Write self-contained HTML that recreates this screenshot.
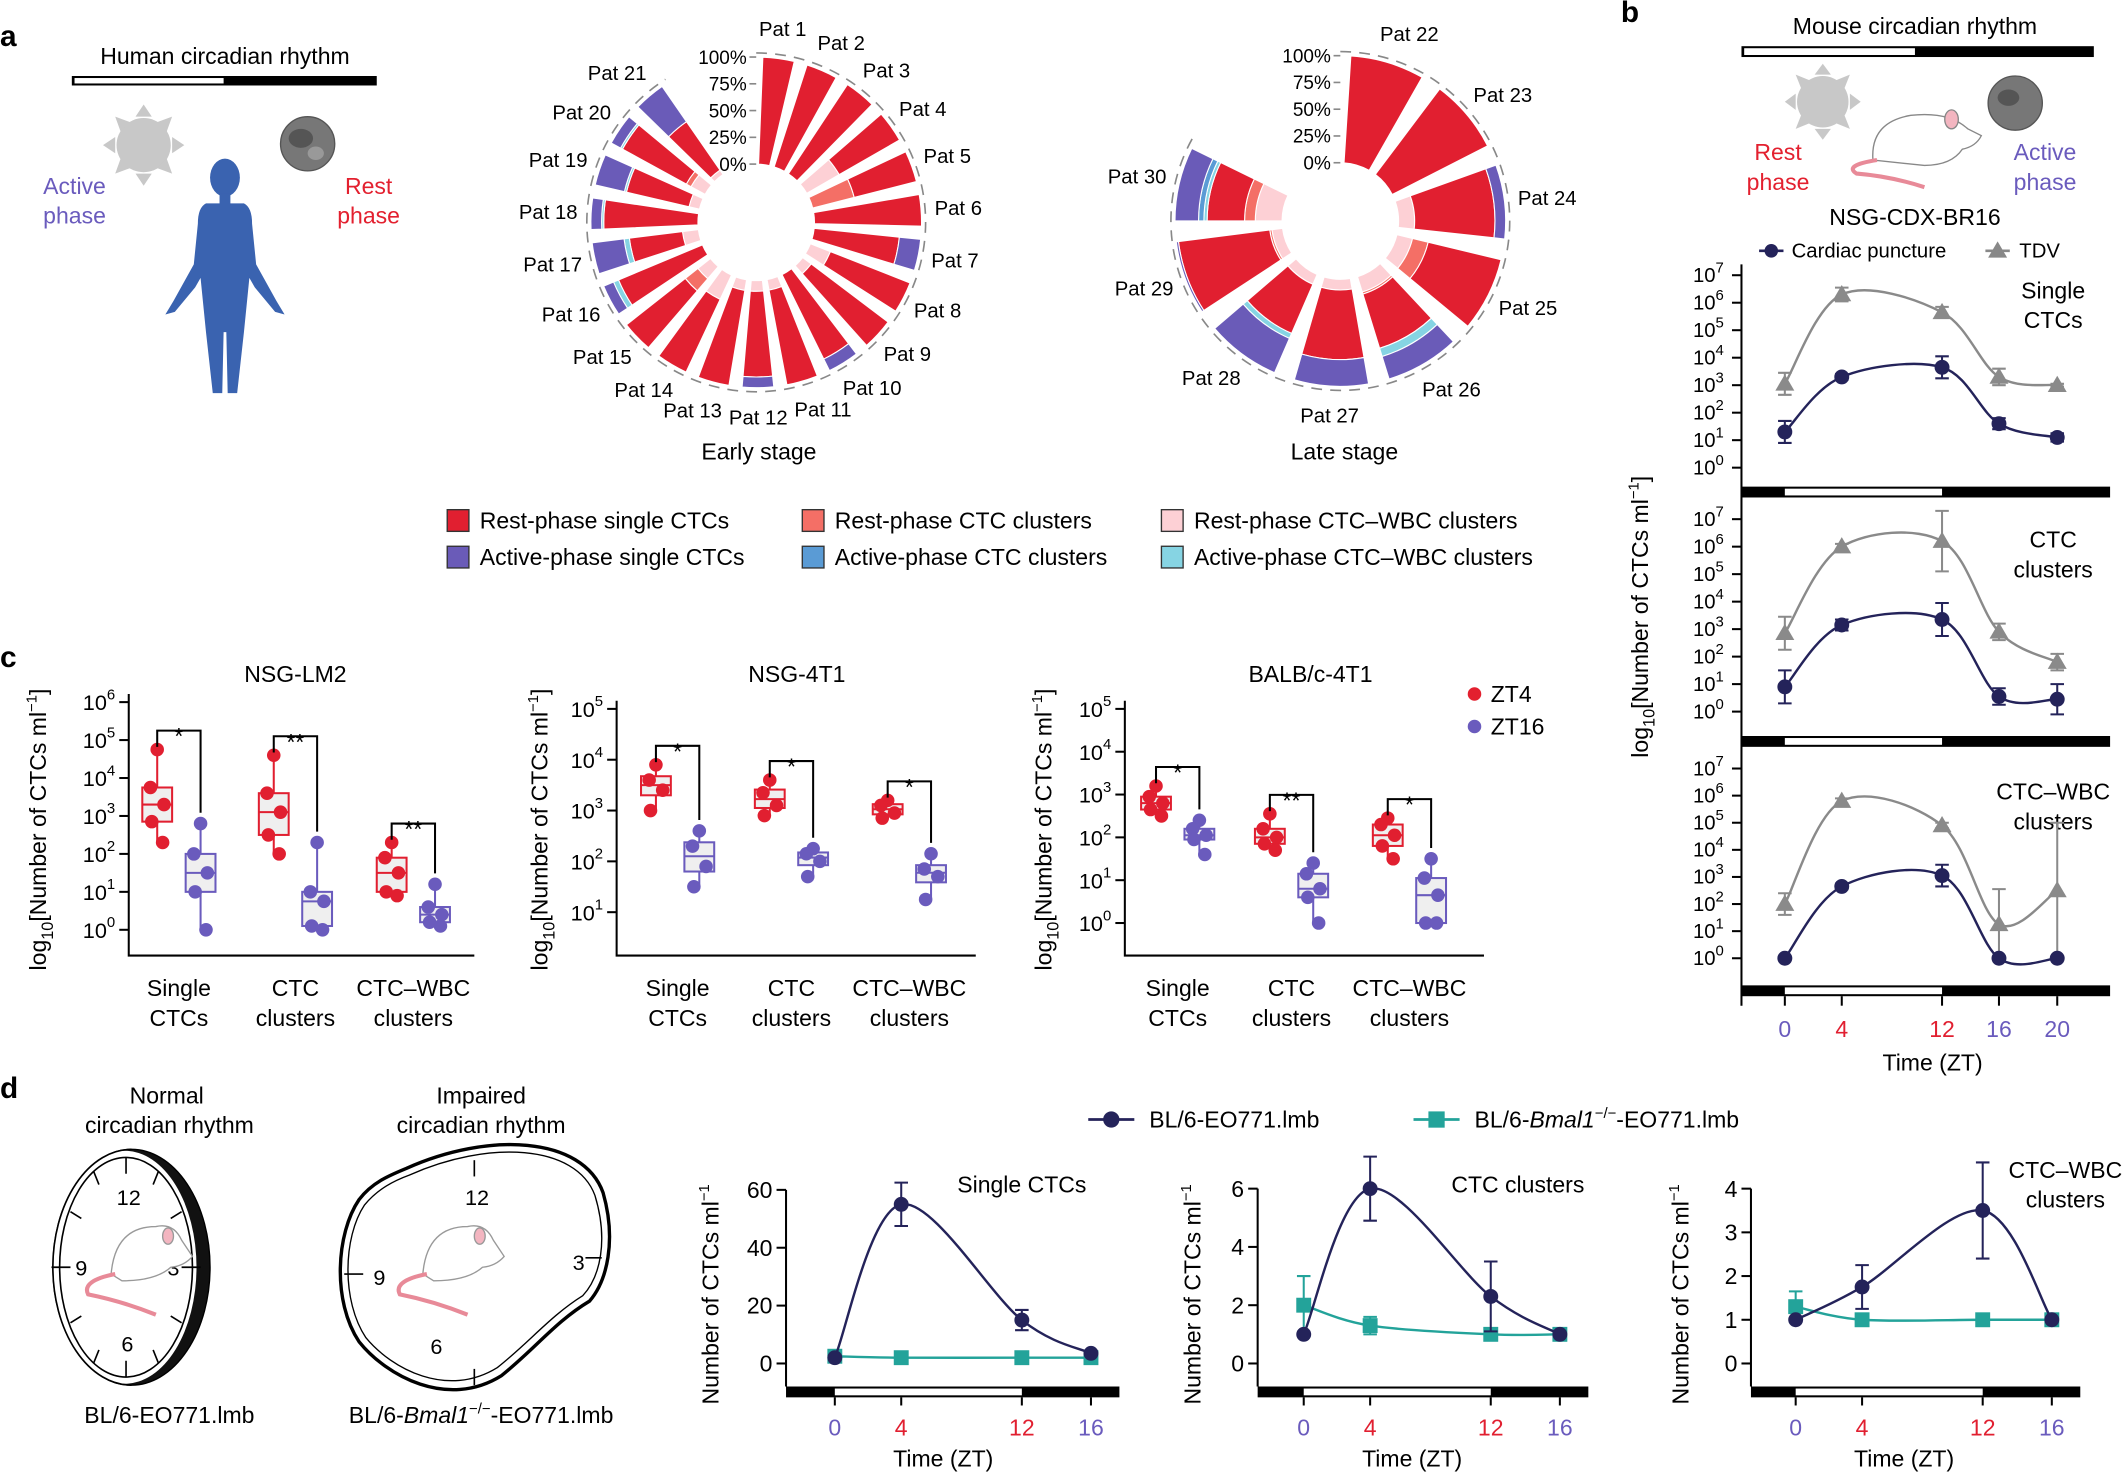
<!DOCTYPE html>
<html><head><meta charset="utf-8">
<style>
html,body{margin:0;padding:0;background:#fff}
svg{display:block;font-family:"Liberation Sans",Arial,sans-serif}
</style></head>
<body>
<svg id="fig" xmlns="http://www.w3.org/2000/svg" width="2125" height="1472" viewBox="0 0 1568 1086">
<rect x="0" y="0" width="1568" height="1086" fill="#fff"/>
<text x="0" y="34" font-size="22" font-weight="bold">a</text>
<text x="1196" y="16" font-size="22" font-weight="bold">b</text>
<text x="0" y="492" font-size="22" font-weight="bold">c</text>
<text x="0" y="810" font-size="22" font-weight="bold">d</text>

<g>
<text x="166" y="47" font-size="17" text-anchor="middle">Human circadian rhythm</text>
<rect x="53" y="56" width="225" height="7" fill="#000"/>
<rect x="55" y="57.5" width="110" height="4" fill="#fff"/>
<g fill="#c8c8c8">
<circle cx="106" cy="107" r="20"/>
<polygon points="106,77 100,86 112,86"/><polygon points="106,137 100,128 112,128"/>
<polygon points="76,107 85,101 85,113"/><polygon points="136,107 127,101 127,113"/>
<polygon points="85,86 96,90 89,97"/><polygon points="127,86 116,90 123,97"/>
<polygon points="85,128 96,124 89,117"/><polygon points="127,128 116,124 123,117"/>
</g>
<g>
<circle cx="227" cy="106" r="20" fill="#777" stroke="#555" stroke-width="1"/>
<ellipse cx="222" cy="102" rx="9" ry="7" fill="#555"/><ellipse cx="233" cy="113" rx="6" ry="5" fill="#999"/>
</g>
<text x="55" y="143" font-size="17" fill="#6a5bbd" text-anchor="middle">Active</text>
<text x="55" y="165" font-size="17" fill="#6a5bbd" text-anchor="middle">phase</text>
<text x="272" y="143" font-size="17" fill="#e3202f" text-anchor="middle">Rest</text>
<text x="272" y="165" font-size="17" fill="#e3202f" text-anchor="middle">phase</text>
<g fill="#3a63b0">
<ellipse cx="166" cy="131" rx="11" ry="14"/>
<rect x="162" y="143" width="8" height="8"/>
<path d="M152,150 L180,150 Q186,153 186,165 L189,195 L204,222 L210,232 L203,230 L188,212 L184,205 L183,215 L180,245 L175,290 L168,290 L167,245 L165,245 L164,290 L157,290 L152,245 L149,215 L148,205 L144,212 L129,230 L122,232 L128,222 L143,195 L146,165 Q146,153 152,150 Z"/>
</g>
</g>

<g font-size="17">
<rect x="330" y="376" width="16" height="16" fill="#e11f30" stroke="#333" stroke-width="1"/><text x="354" y="390">Rest-phase single CTCs</text>
<rect x="330" y="403" width="16" height="16" fill="#6a5bb8" stroke="#333" stroke-width="1"/><text x="354" y="417">Active-phase single CTCs</text>
<rect x="592" y="376" width="16" height="16" fill="#f46f66" stroke="#333" stroke-width="1"/><text x="616" y="390">Rest-phase CTC clusters</text>
<rect x="592" y="403" width="16" height="16" fill="#5a9bd5" stroke="#333" stroke-width="1"/><text x="616" y="417">Active-phase CTC clusters</text>
<rect x="857" y="376" width="16" height="16" fill="#fdd0d5" stroke="#333" stroke-width="1"/><text x="881" y="390">Rest-phase CTC–WBC clusters</text>
<rect x="857" y="403" width="16" height="16" fill="#86d4e3" stroke="#333" stroke-width="1"/><text x="881" y="417">Active-phase CTC–WBC clusters</text>
</g>
<text x="560" y="339" font-size="17" text-anchor="middle">Early stage</text>
<text x="992" y="339" font-size="17" text-anchor="middle">Late stage</text>

<g>
<text x="1413" y="25" font-size="17" text-anchor="middle">Mouse circadian rhythm</text>
<rect x="1285" y="34" width="260" height="8" fill="#000"/>
<rect x="1287" y="35.5" width="126" height="5" fill="#fff"/>
<g fill="#c8c8c8"><circle cx="1345" cy="75" r="19"/>
<polygon points="1345,47 1339,55 1351,55"/><polygon points="1345,103 1339,95 1351,95"/>
<polygon points="1317,75 1325,69 1325,81"/><polygon points="1373,75 1365,69 1365,81"/>
<polygon points="1325,55 1335,59 1329,65"/><polygon points="1365,55 1355,59 1361,65"/>
<polygon points="1325,95 1335,91 1329,85"/><polygon points="1365,95 1355,91 1361,85"/></g>
<circle cx="1487" cy="76" r="20" fill="#777" stroke="#555"/><ellipse cx="1482" cy="72" rx="8" ry="6" fill="#555"/>
<g>
<path d="M1382,118 Q1380,90 1410,85 Q1438,82 1452,95 L1462,100 Q1458,108 1448,110 Q1440,122 1420,122 Z" fill="#fff" stroke="#888"/>
<ellipse cx="1440" cy="88" rx="5" ry="7" fill="#f3b5c0" stroke="#888"/>
<path d="M1385,118 Q1360,122 1370,128 Q1395,130 1420,138" fill="none" stroke="#e88a98" stroke-width="3"/>
</g>
<text x="1312" y="118" font-size="17" fill="#e3202f" text-anchor="middle">Rest</text>
<text x="1312" y="140" font-size="17" fill="#e3202f" text-anchor="middle">phase</text>
<text x="1509" y="118" font-size="17" fill="#6a5bbd" text-anchor="middle">Active</text>
<text x="1509" y="140" font-size="17" fill="#6a5bbd" text-anchor="middle">phase</text>
<text x="1413" y="166" font-size="17" text-anchor="middle">NSG-CDX-BR16</text>
</g>
<g font-size="15">
<line x1="1298" y1="185" x2="1316" y2="185" stroke="#24235a" stroke-width="2"/><circle cx="1307" cy="185" r="5" fill="#24235a"/>
<text x="1322" y="190">Cardiac puncture</text>
<line x1="1465" y1="185" x2="1483" y2="185" stroke="#888" stroke-width="2"/><polygon points="1474,178 1481,190 1467,190" fill="#888"/>
<text x="1490" y="190">TDV</text>
</g>
<text transform="translate(1216,455) rotate(-90)" font-size="17" text-anchor="middle">log<tspan font-size="12" dy="5">10</tspan><tspan dy="-5">[Number of CTCs ml</tspan><tspan font-size="11" dy="-7">−1</tspan><tspan dy="7">]</tspan></text>
<text x="1426" y="790" font-size="17" text-anchor="middle">Time (ZT)</text>

<g font-size="17">
<circle cx="1088" cy="512" r="5" fill="#e3202f"/><text x="1100" y="518">ZT4</text>
<circle cx="1088" cy="536" r="5" fill="#6a5bbd"/><text x="1100" y="542">ZT16</text>
</g>

<g>
<text x="123" y="814" font-size="17" text-anchor="middle">Normal</text>
<text x="125" y="836" font-size="17" text-anchor="middle">circadian rhythm</text>
<ellipse cx="97" cy="935" rx="58" ry="87" fill="#111" stroke="#000" stroke-width="1"/>
<ellipse cx="92" cy="935" rx="53" ry="86" fill="#fff"/>
<path d="M97,848 A58,87 0 0 0 97,1022" fill="none" stroke="#000" stroke-width="1.2"/>
<ellipse cx="93" cy="935" rx="49" ry="81" fill="#fff" stroke="#000" stroke-width="1.2"/>
<g stroke="#000" stroke-width="1.2">
<line x1="93" y1="854" x2="93" y2="866"/><line x1="93" y1="1004" x2="93" y2="1016"/>
<line x1="38" y1="935" x2="52" y2="935"/><line x1="134" y1="935" x2="148" y2="935"/>
<line x1="117" y1="864" x2="113" y2="874"/><line x1="69" y1="864" x2="73" y2="874"/>
<line x1="134" y1="894" x2="126" y2="899"/><line x1="52" y1="894" x2="60" y2="899"/>
<line x1="134" y1="976" x2="126" y2="971"/><line x1="52" y1="976" x2="60" y2="971"/>
<line x1="117" y1="1006" x2="113" y2="996"/><line x1="69" y1="1006" x2="73" y2="996"/></g>
<text x="95" y="889" font-size="16" text-anchor="middle">12</text>
<text x="128" y="941" font-size="16" text-anchor="middle">3</text>
<text x="94" y="997" font-size="16" text-anchor="middle">6</text>
<text x="60" y="941" font-size="16" text-anchor="middle">9</text>
<path d="M82,940 Q85,905 115,905 Q128,902 134,915 L142,927 Q136,934 126,935 Q115,945 90,945 Z" fill="#fff" stroke="#999"/>
<ellipse cx="124" cy="912" rx="4" ry="6" fill="#f3b5c0" stroke="#999"/>
<path d="M85,940 Q60,945 65,955 Q90,960 115,970" fill="none" stroke="#e88a98" stroke-width="3"/>
<text x="125" y="1050" font-size="17" text-anchor="middle">BL/6-EO771.lmb</text>
</g>
<g>
<text x="355" y="814" font-size="17" text-anchor="middle">Impaired</text>
<text x="355" y="836" font-size="17" text-anchor="middle">circadian rhythm</text>
<path d="M300,862 C360,835 430,838 445,880 C455,915 448,945 435,960 C410,975 395,995 370,1015 C330,1040 285,1015 265,990 C245,960 248,910 265,885 C275,872 288,867 300,862 Z" fill="#fff" stroke="#000" stroke-width="2.5"/>
<path d="M302,867 C360,841 425,844 439,882 C449,915 443,942 430,956 C406,971 391,990 367,1009 C330,1032 289,1010 270,987 C252,960 253,913 269,889 C279,877 291,871 302,867 Z" fill="none" stroke="#000" stroke-width="1"/>
<g stroke="#000" stroke-width="1.2">
<line x1="350" y1="856" x2="350" y2="868"/><line x1="350" y1="1010" x2="350" y2="1022"/>
<line x1="254" y1="940" x2="268" y2="940"/><line x1="432" y1="928" x2="444" y2="928"/></g>
<text x="352" y="889" font-size="16" text-anchor="middle">12</text>
<text x="427" y="937" font-size="16" text-anchor="middle">3</text>
<text x="322" y="999" font-size="16" text-anchor="middle">6</text>
<text x="280" y="948" font-size="16" text-anchor="middle">9</text>
<path d="M312,940 Q315,905 345,905 Q358,902 364,915 L372,927 Q366,934 356,935 Q345,945 320,945 Z" fill="#fff" stroke="#999"/>
<ellipse cx="354" cy="912" rx="4" ry="6" fill="#f3b5c0" stroke="#999"/>
<path d="M315,940 Q290,945 295,955 Q320,960 345,970" fill="none" stroke="#e88a98" stroke-width="3"/>
<text x="355" y="1050" font-size="17" text-anchor="middle">BL/6-<tspan font-style="italic">Bmal1</tspan><tspan font-size="11" dy="-7">−/−</tspan><tspan dy="7">-EO771.lmb</tspan></text>
</g>
<g font-size="17">
<line x1="803" y1="826" x2="837" y2="826" stroke="#24235a" stroke-width="2"/><circle cx="820" cy="826" r="6" fill="#24235a"/>
<text x="848" y="832">BL/6-EO771.lmb</text>
<line x1="1043" y1="826" x2="1077" y2="826" stroke="#23a39a" stroke-width="2"/><rect x="1054" y="820" width="12" height="12" fill="#23a39a"/>
<text x="1088" y="832">BL/6-<tspan font-style="italic">Bmal1</tspan><tspan font-size="11" dy="-7">−/−</tspan><tspan dy="7">-EO771.lmb</tspan></text>
</g>
<g id="dyn"></g>
</svg>
<script>
// ---------- DATA ----------
const earlyPatients=['Pat 1','Pat 2','Pat 3','Pat 4','Pat 5','Pat 6','Pat 7','Pat 8','Pat 9','Pat 10','Pat 11','Pat 12','Pat 13','Pat 14','Pat 15','Pat 16','Pat 17','Pat 18','Pat 19','Pat 20','Pat 21'];
const earlyRestWBC=[0,0,0,35,0,0,0,20,10,0,10,10,10,25,15,0,15,0,10,15,5];
const earlyRestCluster=[0,0,0,0,40,0,0,0,0,0,0,0,0,0,15,0,0,0,0,5,0];
const earlyRestSingle=[100,100,100,65,60,100,80,80,90,88,90,80,90,75,70,85,50,88,60,68,55];
const earlyActiveWBC=[0,0,0,0,0,0,0,0,0,0,0,0,0,0,0,5,5,2,2,2,0];
const earlyActiveCluster=[0,0,0,0,0,0,0,0,0,0,0,0,0,0,0,0,0,0,0,0,0];
const earlyActiveSingle=[0,0,0,0,0,0,20,0,0,12,0,10,0,0,0,10,30,10,28,10,40];
const latePatients=['Pat 22','Pat 23','Pat 24','Pat 25','Pat 26','Pat 27','Pat 28','Pat 29','Pat 30'];
const lateRestWBC=[0,0,15,15,15,10,10,10,25];
const lateRestCluster=[0,0,0,15,2,0,0,2,10];
const lateRestSingle=[100,100,75,70,53,65,50,86,35];
const lateActiveWBC=[0,0,0,0,8,0,5,0,3];
const lateActiveCluster=[0,0,0,0,0,0,0,0,5];
const lateActiveSingle=[0,0,10,0,22,25,35,2,22];
const pctTicks=['0%','25%','50%','75%','100%'];
const pctTickValues=[0,25,50,75,100];

const bTimes=[0,4,12,16,20];
const bTimeTicks=['0','4','12','16','20'];
const bSingleCardiac=[1.3,3.3,3.65,1.6,1.1];
const bSingleCardiacErr=[0.4,0.1,0.4,0.2,0.15];
const bSingleTDV=[3.05,6.3,5.65,3.3,3.0];
const bSingleTDVErr=[0.4,0.25,0.2,0.3,0.05];
const bClusterCardiac=[0.9,3.15,3.35,0.55,0.45];
const bClusterCardiacErr=[0.6,0.2,0.6,0.3,0.55];
const bClusterTDV=[2.85,6.0,6.2,2.9,1.8];
const bClusterTDVErr=[0.6,0.1,1.1,0.3,0.3];
const bWBCCardiac=[0,2.65,3.05,0,0];
const bWBCCardiacErr=[0,0.1,0.4,0,0];
const bWBCTDV=[2.0,5.8,4.9,1.25,2.5];
const bWBCTDVErr=[0.4,0.1,0.1,1.3,2.5];
const bLogTicks=[0,1,2,3,4,5,6,7];

const cCategories=['Single|CTCs','CTC|clusters','CTC–WBC|clusters'];
const lm2ZT4=[[4.75,3.75,3.3,2.85,2.3],[4.6,3.6,3.1,2.5,2.0],[2.3,1.9,1.5,1.0,0.9]];
const lm2ZT16=[[2.8,2.0,1.5,1.0,0.0],[2.3,1.0,0.75,0.1,0.0],[1.2,0.6,0.4,0.2,0.1]];
const nsg4t1ZT4=[[3.9,3.6,3.4,3.0],[3.6,3.35,3.1,2.9],[3.2,3.1,2.95,2.85]];
const nsg4t1ZT16=[[2.6,2.3,1.9,1.5],[2.25,2.15,2.0,1.7],[2.15,1.85,1.7,1.25]];
const balbZT4=[[3.2,2.95,2.8,2.65,2.5],[2.55,2.2,2.0,1.85,1.7],[2.45,2.3,2.05,1.8,1.5]];
const balbZT16=[[2.4,2.2,2.05,1.95,1.6],[1.4,1.15,0.8,0.6,0.0],[1.5,1.05,0.65,0.0,0.0]];
const lm2Stars=['*','**','**'];
const nsg4t1Stars=['*','*','*'];
const balbStars=['*','**','*'];

const dTimes=[0,4,12,16];
const dTimeTicks=['0','4','12','16'];
const dSingleWT=[2,55,15,3.5];
const dSingleWTErr=[0,7.5,3.5,0];
const dSingleKO=[2.5,2,2,2];
const dClusterWT=[1,6,2.3,1];
const dClusterWTErr=[0,1.1,1.2,0];
const dClusterKO=[2,1.3,1,1];
const dClusterKOErr=[1,0.3,0,0];
const dWBCWT=[1,1.75,3.5,1];
const dWBCWTErr=[0,0.5,1.1,0];
const dWBCKO=[1.3,1,1,1];
const dWBCKOErr=[0.35,0,0,0];
const dSingleTicks=[0,20,40,60];
const dClusterTicks=[0,2,4,6];
const dWBCTicks=[0,1,2,3,4];

// ---------- HELPERS ----------
const NS='http://www.w3.org/2000/svg';
const root=document.getElementById('dyn');
function mk(tag,attrs,parent){const e=document.createElementNS(NS,tag);for(const k in attrs)e.setAttribute(k,attrs[k]);(parent||root).appendChild(e);return e;}
function txt(x,y,s,size,anchor,fill,parent){const t=mk('text',{x:x,y:y,'font-size':size,'text-anchor':anchor||'start',fill:fill||'#000'},parent);t.textContent=s;return t;}
function pw(dom,rng){return function(v){for(let i=0;i<dom.length-1;i++){if(v<=dom[i+1]||i===dom.length-2){return rng[i]+(v-dom[i])*(rng[i+1]-rng[i])/(dom[i+1]-dom[i]);}}};}
function catmull(pts){let d=`M${pts[0][0]},${pts[0][1]}`;for(let i=0;i<pts.length-1;i++){const p0=pts[Math.max(0,i-1)],p1=pts[i],p2=pts[i+1],p3=pts[Math.min(pts.length-1,i+2)];
 d+=`C${p1[0]+(p2[0]-p0[0])/6},${p1[1]+(p2[1]-p0[1])/6} ${p2[0]-(p3[0]-p1[0])/6},${p2[1]-(p3[1]-p1[1])/6} ${p2[0]},${p2[1]}`;}return d;}
const RED='#e11f30',PUR='#6a5bbd',NAVY='#24235a',GREY='#8a8a8a',TEAL='#23a39a';

// ---------- PANEL a radial ----------
function wedge(cx,cy,r0,r1,a0,a1){const rad=Math.PI/180;const p=(r,a)=>[cx+r*Math.sin(a*rad),cy-r*Math.cos(a*rad)];
 const A=p(r1,a0),B=p(r1,a1),C=p(r0,a1),D=p(r0,a0);const lg=(a1-a0)>180?1:0;
 return `M${A[0]},${A[1]} A${r1},${r1} 0 ${lg} 1 ${B[0]},${B[1]} L${C[0]},${C[1]} A${r0},${r0} 0 ${lg} 0 ${D[0]},${D[1]} Z`;}
function radial(cx,cy,pats,layers,slot,barW,gname){
 const g=mk('g',{});
 
 
 const R0=43,R1=122;const rs=v=>R0+v*(R1-R0)/100;
 const colors=['#fdd0d5','#f46f66',RED,'#86d4e3','#5a9bd5','#6a5bb8'];
 const names=['rest-wbc','rest-cluster','rest-single','active-wbc','active-cluster','active-single'];
 pats.forEach((p,i)=>{const a0=i*slot+(slot-barW)/2,a1=a0+barW;let acc=0;
  layers.forEach((arr,k)=>{const v=arr[i];if(v<=0)return;
   const w=mk('path',{d:wedge(cx,cy,rs(acc),rs(acc+v),a0,a1),fill:colors[k],stroke:'#fff','stroke-width':0.8},g);
   
   
   acc+=v;});
  const am=(a0+a1)/2*Math.PI/180,lr=R1+22;const lx=cx+lr*Math.sin(am),ly=cy-lr*Math.cos(am)+5;
  const s=Math.sin(am);const t=txt(lx,ly,p,15,s>0.25?'start':(s<-0.25?'end':'middle'),'#000',g);
  t.setAttribute('x',lx+(s>0.25?-12:(s<-0.25?12:0)));
  
  
 });
 const ring=mk('path',{d:wedge(cx,cy,R1+3,R1+3,0,pats.length*slot).split(' L')[0],fill:'none',stroke:'#888','stroke-width':1.2,'stroke-dasharray':'8 6'},g);
 
 
 pctTickValues.forEach((v,j)=>{const y=cy-rs(v);
  const tk=mk('line',{x1:cx-5,x2:cx,y1:y,y2:y,stroke:'#888','stroke-width':1.2},g);
  
  
  const t=txt(cx-7,y+5,pctTicks[j],14,'end','#000',g);
  
  });
}
radial(558,164,earlyPatients,[earlyRestWBC,earlyRestCluster,earlyRestSingle,earlyActiveWBC,earlyActiveCluster,earlyActiveSingle],15.6,11,'early-stage-radial-chart');
radial(989,163,latePatients,[lateRestWBC,lateRestCluster,lateRestSingle,lateActiveWBC,lateActiveCluster,lateActiveSingle],33.3,26,'late-stage-radial-chart');

// ---------- PANEL b ----------
const bx=pw(bTimes,[1317,1359,1433,1475,1518]);
const bPanels=[{top:203,bot:345,bar:359,title:['Single','CTCs'],ty:220,c:bSingleCardiac,ce:bSingleCardiacErr,t:bSingleTDV,te:bSingleTDVErr,n:'single'},
 {top:383,bot:525,bar:543,title:['CTC','clusters'],ty:404,c:bClusterCardiac,ce:bClusterCardiacErr,t:bClusterTDV,te:bClusterTDVErr,n:'cluster'},
 {top:567,bot:707,bar:727,title:['CTC–WBC','clusters'],ty:590,c:bWBCCardiac,ce:bWBCCardiacErr,t:bWBCTDV,te:bWBCTDVErr,n:'wbc'}];
const yAxisB=mk('line',{x1:1285,x2:1285,y1:195,y2:742,stroke:'#000','stroke-width':1.5});


bPanels.forEach(P=>{
 const ys=v=>P.bot-v*(P.bot-P.top)/7;
 const g=mk('g',{});
 
 
 bLogTicks.forEach(v=>{const y=ys(v);
  const l=mk('line',{x1:1278,x2:1285,y1:y,y2:y,stroke:'#000','stroke-width':1.5},g);
  
  
  const t=txt(1272,y+5,'',15,'end','#000',g);
  
  
  t.appendChild(document.createTextNode('10'));const sp=mk('tspan',{dy:-7,'font-size':11},t);sp.textContent=v;});
 const bar=mk('rect',{x:1285,y:P.bar,width:272,height:8,fill:'#000'},g);
 
 
 const wb=mk('rect',{x:bx(0),y:P.bar+1.5,width:bx(12)-bx(0),height:5,fill:'#fff'},g);
 
 
 P.title.forEach((s,i)=>{const t=txt(1515,P.ty+i*22,s,17,'middle','#000',g);});
 [[P.t,P.te,GREY,'tdv'],[P.c,P.ce,NAVY,'cardiac']].forEach(([vals,errs,col,nm])=>{
  const pts=bTimes.map((t,i)=>[bx(t),ys(vals[i])]);
  const ln=mk('path',{d:catmull(pts),fill:'none',stroke:col,'stroke-width':1.8},g);
  
  
  bTimes.forEach((tm,i)=>{const x=bx(tm),y=ys(vals[i]);
   if(errs[i]>0){const e=mk('path',{d:`M${x},${ys(vals[i]-errs[i])}V${ys(vals[i]+errs[i])}M${x-5},${ys(vals[i]-errs[i])}h10M${x-5},${ys(vals[i]+errs[i])}h10`,stroke:col,'stroke-width':1.5,fill:'none'},g);
    
    }
   let m;if(nm==='tdv'){m=mk('polygon',{points:`${x},${y-7} ${x+7},${y+5} ${x-7},${y+5}`,fill:col},g);}else{m=mk('circle',{cx:x,cy:y,r:5.5,fill:col},g);}
   
   });
 });
});
bTimes.forEach((tm,i)=>{const x=bx(tm);
 const l=mk('line',{x1:x,x2:x,y1:735,y2:742,stroke:'#000','stroke-width':1.5});
 
 
 const t=txt(x,765,bTimeTicks[i],17,'middle',(tm===4||tm===12)?RED:PUR);
 
 });

// ---------- PANEL c ----------
function boxPlot(P){
 const g=mk('g',{});
 
 
 const ys=v=>P.y0-v*P.dec;
 const t0=txt(P.tx,503,P.title,17,'middle','#000',g);
 
 
 const ax=mk('path',{d:`M${P.ax},${P.axTop}V${P.axBot}H${P.axRight}`,fill:'none',stroke:'#000','stroke-width':1.5},g);
 
 
 P.ticks.forEach(v=>{const y=ys(v);
  const l=mk('line',{x1:P.ax-7,x2:P.ax,y1:y,y2:y,stroke:'#000','stroke-width':1.5},g);
  
  
  const t=txt(P.ax-10,y+6,'',16,'end','#000',g);
  
  
  t.appendChild(document.createTextNode('10'));const sp=mk('tspan',{dy:-8,'font-size':11},t);sp.textContent=v;});
 const yl=mk('text',{transform:`translate(${P.ylx},612) rotate(-90)`,'font-size':17,'text-anchor':'middle'},g);
 
 
 yl.innerHTML='log<tspan font-size="12" dy="5">10</tspan><tspan dy="-5">[Number of CTCs ml</tspan><tspan font-size="11" dy="-7">−1</tspan><tspan dy="7">]</tspan>';
 const jit=[0,-5,5,-4,4,0];
 cCategories.forEach((cat,ci)=>{
  const xs=[P.gx[ci],P.gx[ci]+32];
  cat.split('|').forEach((s,k)=>{const t=txt(xs[0]+16,735+k*22,s,17,'middle','#000',g);});
  let tops=[];
  [[P.a[ci],RED,'zt4'],[P.b[ci],PUR,'zt16']].forEach(([vals,col,nm],gi)=>{
   const s=[...vals].sort((a,b)=>a-b);const q=p=>{const idx=p*(s.length-1);const lo=Math.floor(idx);return s[lo]+(s[Math.min(lo+1,s.length-1)]-s[lo])*(idx-lo);};
   const x=xs[gi];const mn=s[0],mx=s[s.length-1],q1=q(0.25),q3=q(0.75),md=q(0.5);
   const wh=mk('path',{d:`M${x},${ys(mn)}V${ys(q1)}M${x},${ys(q3)}V${ys(mx)}`,stroke:col,'stroke-width':1.5},g);
   
   
   const bx_=mk('rect',{x:x-11,y:ys(q3),width:22,height:Math.max(1,ys(q1)-ys(q3)),fill:'#efefef',stroke:col,'stroke-width':1.5},g);
   
   
   const ml=mk('line',{x1:x-11,x2:x+11,y1:ys(md),y2:ys(md),stroke:col,'stroke-width':1.5},g);
   
   
   vals.forEach((v,k)=>{const c=mk('circle',{cx:x+jit[k%jit.length],cy:ys(v),r:5,fill:col},g);
    
    });
   tops.push(ys(mx));});
  const by=Math.min(tops[0],tops[1])-14;
  const br=mk('path',{d:`M${xs[0]},${by+12}V${by}H${xs[1]}V${tops[1]-8}`,fill:'none',stroke:'#000','stroke-width':1.5},g);
  
  
  const st=txt((xs[0]+xs[1])/2,by+10,P.stars[ci],17,'middle','#000',g);
  
  
 });
}
boxPlot({name:'nsg-lm2-boxplot',title:'NSG-LM2',tx:218,ax:95,axTop:512,axBot:705,axRight:350,y0:686,dec:28,ticks:[0,1,2,3,4,5,6],gx:[116,202,289],a:lm2ZT4,b:lm2ZT16,stars:lm2Stars,ylx:34});
boxPlot({name:'nsg-4t1-boxplot',title:'NSG-4T1',tx:588,ax:455,axTop:517,axBot:705,axRight:720,y0:673+37.5,dec:37.5,ticks:[1,2,3,4,5],gx:[484,568,655],a:nsg4t1ZT4,b:nsg4t1ZT16,stars:nsg4t1Stars,ylx:404});
boxPlot({name:'balb-4t1-boxplot',title:'BALB/c-4T1',tx:967,ax:830,axTop:517,axBot:705,axRight:1095,y0:681,dec:31.6,ticks:[0,1,2,3,4,5],gx:[853,937,1024],a:balbZT4,b:balbZT16,stars:balbStars,ylx:776});

// ---------- PANEL d ----------
function linePlot(P){
 const g=mk('g',{});
 
 
 const xs=pw(dTimes,[P.x0,P.x0+49,P.x0+138,P.x0+189]);
 const ys=v=>1006-v*P.k;
 const ax=mk('line',{x1:P.ax,x2:P.ax,y1:ys(P.ticks[P.ticks.length-1]),y2:1023,stroke:'#000','stroke-width':1.5},g);
 
 
 P.ticks.forEach(v=>{const y=ys(v);
  const l=mk('line',{x1:P.ax-7,x2:P.ax,y1:y,y2:y,stroke:'#000','stroke-width':1.5},g);
  
  
  const t=txt(P.ax-10,y+6,String(v),17,'end','#000',g);
  
  });
 const bar=mk('rect',{x:P.ax,y:1023,width:P.barW,height:8,fill:'#000'},g);
 
 
 const wb=mk('rect',{x:xs(0),y:1024.5,width:xs(12)-xs(0),height:5,fill:'#fff'},g);
 
 
 dTimes.forEach((tm,i)=>{const x=xs(tm);
  const l=mk('line',{x1:x,x2:x,y1:1031,y2:1037,stroke:'#000','stroke-width':1.5},g);
  
  
  const t=txt(x,1059,dTimeTicks[i],17,'middle',(tm===4||tm===12)?RED:PUR,g);
  
  });
 const xt=txt(P.x0+80,1082,'Time (ZT)',17,'middle','#000',g);
 
 
 const yl=mk('text',{transform:`translate(${P.ylx},955) rotate(-90)`,'font-size':17,'text-anchor':'middle'},g);
 
 
 yl.innerHTML='Number of CTCs ml<tspan font-size="11" dy="-7">−1</tspan>';
 P.title.forEach((s,i)=>{const t=txt(P.tpx,P.tpy+i*22,s,17,'middle','#000',g);});
 [[P.ko,P.koE,TEAL,'knockout'],[P.wt,P.wtE,NAVY,'wildtype']].forEach(([vals,errs,col,nm])=>{
  const pts=dTimes.map((t,i)=>[xs(t),ys(vals[i])]);
  const ln=mk('path',{d:catmull(pts),fill:'none',stroke:col,'stroke-width':1.8},g);
  
  
  dTimes.forEach((t,i)=>{const x=xs(t),y=ys(vals[i]);
   if(errs[i]>0){const e=mk('path',{d:`M${x},${ys(vals[i]-errs[i])}V${ys(vals[i]+errs[i])}M${x-5},${ys(vals[i]-errs[i])}h10M${x-5},${ys(vals[i]+errs[i])}h10`,stroke:col,'stroke-width':1.5,fill:'none'},g);
    
    }
   let m;if(nm==='knockout'){m=mk('rect',{x:x-5.5,y:y-5.5,width:11,height:11,fill:col},g);}else{m=mk('circle',{cx:x,cy:y,r:5.5,fill:col},g);}
   
   });
 });
}
linePlot({name:'single-ctcs-line-plot',x0:616,ax:580,barW:246,k:42.7/20,ticks:dSingleTicks,wt:dSingleWT,wtE:dSingleWTErr,ko:dSingleKO,koE:[0,0,0,0],title:['Single CTCs'],tpx:754,tpy:880,ylx:530});
linePlot({name:'ctc-clusters-line-plot',x0:962,ax:928,barW:244,k:21.5,ticks:dClusterTicks,wt:dClusterWT,wtE:dClusterWTErr,ko:dClusterKO,koE:dClusterKOErr,title:['CTC clusters'],tpx:1120,tpy:880,ylx:886});
linePlot({name:'ctc-wbc-clusters-line-plot',x0:1325,ax:1292,barW:243,k:32.25,ticks:dWBCTicks,wt:dWBCWT,wtE:dWBCWTErr,ko:dWBCKO,koE:dWBCKOErr,title:['CTC–WBC','clusters'],tpx:1524,tpy:869,ylx:1246});
</script>
</body></html>
